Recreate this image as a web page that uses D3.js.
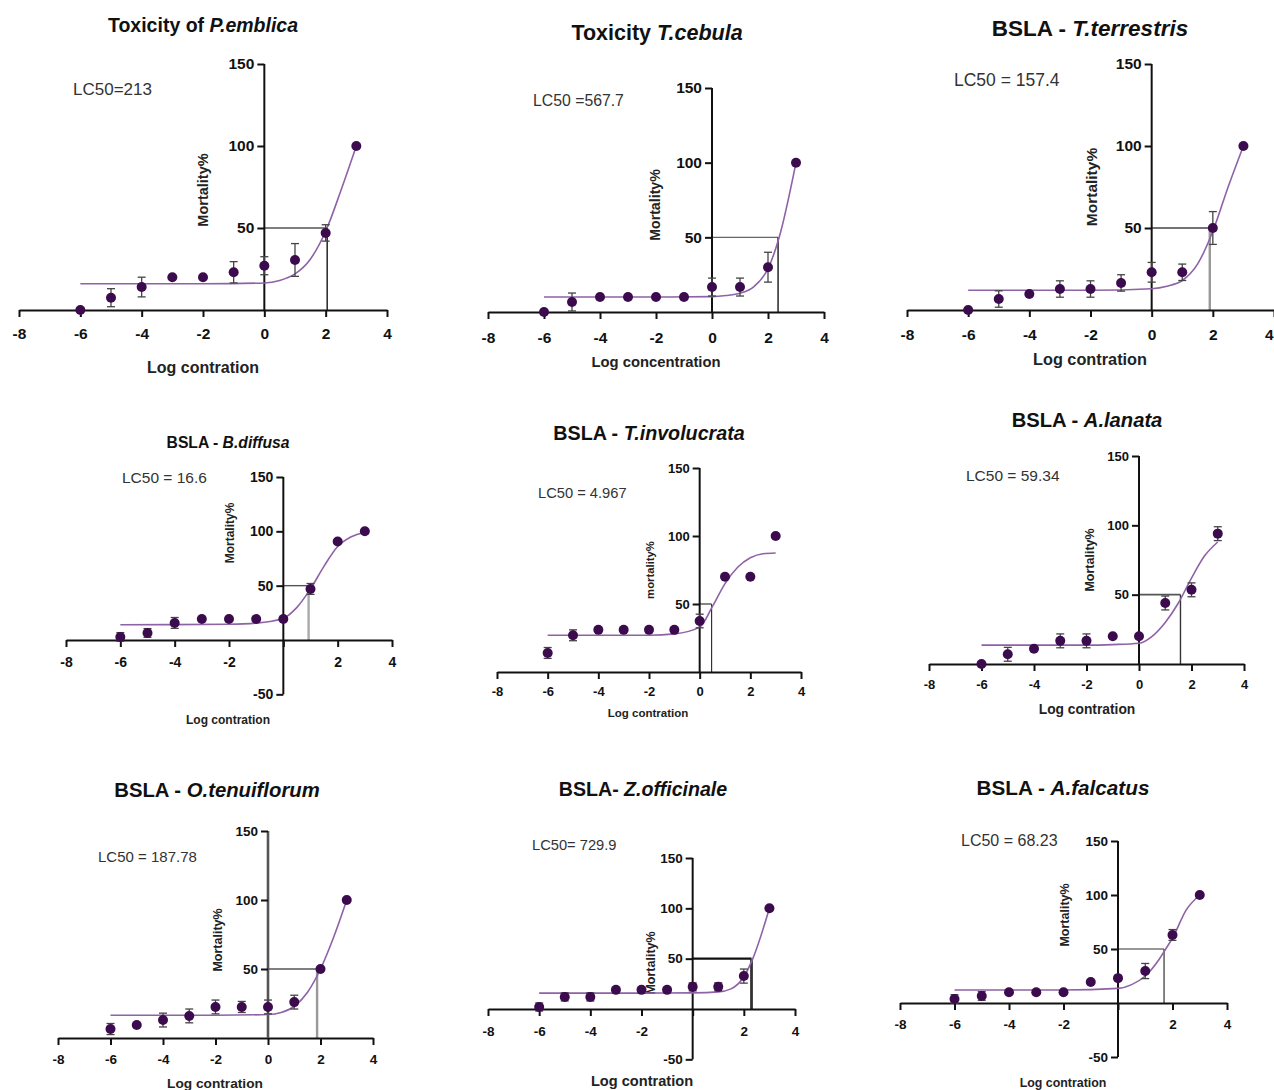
<!DOCTYPE html>
<html>
<head>
<meta charset="utf-8">
<script src="https://cdn.jsdelivr.net/npm/d3@7"></script>
<style>
  body { margin: 0; background: #fff; }
  svg { display: block; font-family: "Liberation Sans", Arial, sans-serif; }
</style>
</head>
<body>
<script>
// doses (log concentration) used in every test
const doses = [-6, -5, -4, -3, -2, -1, 0, 1, 2, 3];
const xTicks = [-8, -6, -4, -2, 0, 2, 4];

const titlePrefix = ["Toxicity of ", "Toxicity ", "BSLA - ", "BSLA - ", "BSLA - ", "BSLA - ", "BSLA - ", "BSLA- ", "BSLA - "];
const species = ["P.emblica", "T.cebula", "T.terrestris", "B.diffusa", "T.involucrata", "A.lanata", "O.tenuiflorum", "Z.officinale", "A.falcatus"];
const xTitles = ["Log contration", "Log concentration", "Log contration", "Log contration", "Log contration",
  "Log contration", "Log contration", "Log contration", "Log contration"];
const yTitles = ["Mortality%", "Mortality%", "Mortality%", "Mortality%", "mortality%",
  "Mortality%", "Mortality%", "Mortality%", "Mortality%"];
const lc50Text = ["LC50=213", "LC50 =567.7", "LC50 = 157.4", "LC50 = 16.6", "LC50 = 4.967",
  "LC50 = 59.34", "LC50 = 187.78", "LC50= 729.9", "LC50 = 68.23"];
// x where the LC50 guide line drops from 50%
const lc50Log = [2.05, 2.36, 1.9, 0.93, 0.47, 1.58, 1.87, 2.3, 1.69];
const yMins = [0, 0, 0, -50, 0, 0, 0, -50, -50];
const zeroLabelled = [true, true, true, false, true, true, true, false, false];

// mean mortality % and error per dose
const mortEmblica = [0, 7.5, 14, 20, 20, 23, 27, 30.5, 47, 100];
const errEmblica = [0, 5.5, 6, 0, 0, 6.5, 5.5, 10, 5, 0];
const mortCebula = [0, 6.7, 10, 10, 10, 10, 16.7, 16.7, 30, 100];
const errCebula = [0, 6, 0, 0, 0, 0, 6, 6, 10, 0];
const mortTerrestris = [0, 6.7, 9.8, 12.8, 12.8, 16.5, 23, 23, 50, 100];
const errTerrestris = [0, 5, 0, 5, 5, 5, 6, 5, 10, 0];
const mortDiffusa = [2.8, 6.5, 15.7, 19.4, 19.4, 19.4, 19.4, 47, 90.7, 100];
const errDiffusa = [4, 4, 5, 0, 0, 0, 0, 5, 0, 0];
const mortInvolucrata = [14, 27, 31, 31, 31, 31, 37.5, 70, 70, 100];
const errInvolucrata = [4, 4, 0, 0, 0, 0, 5, 0, 0, 0];
const mortLanata = [0, 7, 11, 16.7, 16.7, 20, 20, 44, 53.5, 94];
const errLanata = [0, 5, 0, 5, 5, 0, 0, 5, 5, 5];
const mortTenuiflorum = [6.5, 9.4, 13, 16, 22.5, 22.5, 22.5, 26, 50, 100];
const errTenuiflorum = [4, 0, 5, 5, 5, 4, 5, 5, 0, 0];
const mortOfficinale = [2, 12, 12, 19, 19, 19, 22, 22, 32.7, 100];
const errOfficinale = [4, 4, 4, 0, 0, 0, 4, 4, 7, 0];
const mortFalcatus = [3.7, 6.5, 10, 10, 10, 19.4, 23, 29.6, 63, 100];
const errFalcatus = [4, 4, 0, 0, 0, 0, 0, 7, 5, 0];

// fitted curves
const fitX1 = [-6, -2, 0, 0.5, 1, 1.5, 2, 2.5, 3], fitY1 = [16, 16, 16.5, 18, 22, 31, 48, 73, 100];
const fitX2 = [-6, -2, 0, 0.5, 1, 1.5, 2, 2.4, 3], fitY2 = [10, 10, 10.3, 11, 12.5, 17, 29, 50, 100];
const fitX3 = [-6, -2, 0, 0.5, 1, 1.5, 2, 2.5, 3], fitY3 = [12, 12, 13, 14.5, 18, 28, 48, 75, 100];
const fitX4 = [-6, -2, -1, 0, 0.5, 1, 1.5, 2, 2.5, 3], fitY4 = [14, 14.5, 15.5, 20, 30, 47, 68, 86, 95, 99];
const fitX5 = [-6, -2, -1, 0, 0.5, 1, 1.5, 2, 2.5, 3], fitY5 = [27, 27, 28, 33, 48, 65, 77, 84, 87, 87.5];
const fitX6 = [-6, -2, -1, 0, 0.5, 1, 1.5, 2, 2.5, 3], fitY6 = [13.6, 13.6, 14, 15, 20, 30, 44, 62, 78, 88];
const fitX7 = [-6, -2, 0, 0.5, 1, 1.5, 2, 2.5, 3], fitY7 = [16.5, 16.5, 17, 18.5, 23, 33, 50, 73, 100];
const fitX8 = [-6, -2, 0, 1, 1.5, 2, 2.35, 3], fitY8 = [15.8, 15.8, 16, 17, 20, 32, 50, 100];
const fitX9 = [-6, -2, 0, 0.5, 1, 1.5, 1.75, 2, 2.5, 3], fitY9 = [12, 12, 13.5, 17, 25, 40, 50, 60, 86, 100];

const mortality = [mortEmblica, mortCebula, mortTerrestris, mortDiffusa, mortInvolucrata, mortLanata, mortTenuiflorum, mortOfficinale, mortFalcatus];
const errors = [errEmblica, errCebula, errTerrestris, errDiffusa, errInvolucrata, errLanata, errTenuiflorum, errOfficinale, errFalcatus];
const fitXs = [fitX1, fitX2, fitX3, fitX4, fitX5, fitX6, fitX7, fitX8, fitX9];
const fitYs = [fitY1, fitY2, fitY3, fitY4, fitY5, fitY6, fitY7, fitY8, fitY9];

// pixel layout of each panel: [x, y, font size]
const layout = [
  { xl: 19, xr: 387, y0: 310, y150: 64, title: [203, 25, 19.5], xlab: [203, 367, 16], ylab: [203, 190, 14.5], lc: [73, 89, 17], tf: 15.5, pad: 11, hl: "#555", vl: "#333", lw: 1.6, vw: 1.6 },
  { xl: 488, xr: 824, y0: 312, y150: 88, title: [657, 32, 21.5], xlab: [656, 362, 14.8], ylab: [655, 205, 14.2], lc: [533, 100, 15.8], tf: 15.5, pad: 13, hl: "#666", vl: "#333", lw: 1.4, vw: 1.6 },
  { xl: 907, xr: 1274, y0: 310, y150: 64, title: [1090, 28, 22.5], xlab: [1090, 359, 16.3], ylab: [1092, 187, 15.5], lc: [954, 80, 17.5], tf: 15.5, pad: 12, hl: "#444", vl: "#999", lw: 1.4, vw: 2.4 },
  { xl: 66, xr: 392, y0: 640, y150: 477, title: [228, 443, 15.7], xlab: [228, 720, 12], ylab: [230, 533, 12], lc: [122, 478, 15.5], tf: 14, pad: 10, hl: "#555", vl: "#aaa", lw: 1.4, vw: 2.4 },
  { xl: 497, xr: 801, y0: 672, y150: 468, title: [649, 433, 19.7], xlab: [648, 713, 11.5], ylab: [650, 570, 11.3], lc: [538, 493, 14.7], tf: 13, pad: 8, hl: "#333", vl: "#333", lw: 1.2, vw: 1.2 },
  { xl: 929, xr: 1244, y0: 664, y150: 456, title: [1087, 420, 20.2], xlab: [1087, 709, 13.8], ylab: [1090, 560, 12.5], lc: [966, 476, 15.5], tf: 13, pad: 9, hl: "#555", vl: "#333", lw: 1.6, vw: 1.4 },
  { xl: 58, xr: 373, y0: 1038, y150: 831, title: [217, 790, 20.3], xlab: [215, 1083, 13.7], ylab: [218, 940, 12.5], lc: [98, 857, 15], tf: 13.5, pad: 9, hl: "#555", vl: "#999", lw: 1.4, vw: 2.4 },
  { xl: 488, xr: 795, y0: 1009, y150: 858, title: [643, 789, 19.6], xlab: [642, 1081, 14.6], ylab: [651, 963, 12.5], lc: [532, 845, 14.7], tf: 13.5, pad: 10, hl: "#111", vl: "#333", lw: 2.2, vw: 2.8 },
  { xl: 900, xr: 1227, y0: 1003, y150: 841, title: [1063, 788, 20.7], xlab: [1063, 1083, 12.4], ylab: [1065, 915, 12.5], lc: [961, 840, 16], tf: 13.5, pad: 9, hl: "#333", vl: "#333", lw: 1.2, vw: 1.2 }
];

const svg = d3.select("body").append("svg")
  .attr("width", 1274)
  .attr("height", 1090);

layout.forEach((L, i) => {
  const g = svg.append("g");
  const yMin = yMins[i];
  const x = d3.scaleLinear().domain([-8, 4]).range([L.xl, L.xr]);
  const y = d3.scaleLinear().domain([0, 150]).range([L.y0, L.y150]);

  //Title
  const t = g.append("text")
    .attr("x", L.title[0]).attr("y", L.title[1]).attr("dy", "0.35em")
    .attr("text-anchor", "middle")
    .attr("font-size", L.title[2]).attr("font-weight", "bold").attr("fill", "#111");
  t.append("tspan").text(titlePrefix[i]);
  t.append("tspan").attr("font-style", "italic").text(species[i]);

  //LC50 text
  g.append("text")
    .attr("x", L.lc[0]).attr("y", L.lc[1]).attr("dy", "0.35em")
    .attr("font-size", L.lc[2]).attr("fill", "#333")
    .text(lc50Text[i]);

  //LC50 guide lines
  g.append("line")
    .attr("x1", x(0)).attr("x2", x(lc50Log[i]))
    .attr("y1", y(50)).attr("y2", y(50))
    .attr("stroke", L.hl).attr("stroke-width", L.lw);
  g.append("line")
    .attr("x1", x(lc50Log[i])).attr("x2", x(lc50Log[i]))
    .attr("y1", y(50)).attr("y2", y(0))
    .attr("stroke", L.vl).attr("stroke-width", L.vw);

  //X axis
  const gx = g.append("g")
    .attr("transform", `translate(0,${y(0)})`)
    .call(d3.axisBottom(x)
      .tickValues(xTicks)
      .tickSize(7).tickSizeOuter(0).tickPadding(L.pad)
      .tickFormat(d => (d === 0 && !zeroLabelled[i]) ? "" : String(d)));
  // keep a label at the page edge inside the picture
  gx.selectAll(".tick").filter(d => x(d) > 1266).select("text")
    .attr("text-anchor", "end").attr("dx", -1);

  //Y axis
  const yTicks = yMin < 0 ? [-50, 50, 100, 150] : [50, 100, 150];
  const gy = g.append("g")
    .attr("transform", `translate(${x(0)},0)`)
    .call(d3.axisLeft(y.copy().domain([0, 150]))
      .tickValues(yTicks).tickSize(7).tickSizeOuter(0).tickPadding(3)
      .tickFormat(d => String(d)));
  // stretch the axis line down to -50 where needed
  gy.select(".domain").attr("d", `M0,${y(yMin)}V${y(150)}`);

  [gx, gy].forEach(a => {
    const grayAxis = i === 6 && a === gy;
    a.select(".domain").attr("stroke", grayAxis ? "#555" : "#111").attr("stroke-width", grayAxis ? 2.6 : 2);
    a.selectAll(".tick line").attr("stroke", "#111").attr("stroke-width", 2);
    a.selectAll(".tick text")
      .attr("font-size", L.tf).attr("font-weight", "bold").attr("fill", "#111")
      .attr("font-family", "'Liberation Sans', Arial, sans-serif");
  });

  //Axis titles
  g.append("text")
    .attr("x", L.xlab[0]).attr("y", L.xlab[1]).attr("dy", "0.35em")
    .attr("text-anchor", "middle")
    .attr("font-size", L.xlab[2]).attr("font-weight", "bold").attr("fill", "#222")
    .text(xTitles[i]);
  g.append("text")
    .attr("transform", `translate(${L.ylab[0]},${L.ylab[1]}) rotate(-90)`)
    .attr("dy", "0.35em")
    .attr("text-anchor", "middle")
    .attr("font-size", L.ylab[2]).attr("font-weight", "bold").attr("fill", "#222")
    .text(yTitles[i]);

  //Fitted curve
  const fit = fitXs[i].map((v, k) => [v, fitYs[i][k]]);
  g.append("path")
    .datum(fit)
    .attr("fill", "none")
    .attr("stroke", "#8e62a6")
    .attr("stroke-width", 1.6)
    .attr("d", d3.line().x(d => x(d[0])).y(d => y(d[1])).curve(d3.curveMonotoneX));

  //Error bars
  const pts = doses.map((d, k) => ({ d: d, m: mortality[i][k], e: errors[i][k] }));
  const eb = g.selectAll(".err").data(pts.filter(p => p.e > 0)).enter().append("g")
    .attr("stroke", "#444").attr("stroke-width", 1.3);
  eb.append("line")
    .attr("x1", p => x(p.d)).attr("x2", p => x(p.d))
    .attr("y1", p => y(p.m + p.e)).attr("y2", p => y(p.m - p.e));
  eb.append("line")
    .attr("x1", p => x(p.d) - 4).attr("x2", p => x(p.d) + 4)
    .attr("y1", p => y(p.m + p.e)).attr("y2", p => y(p.m + p.e));
  eb.append("line")
    .attr("x1", p => x(p.d) - 4).attr("x2", p => x(p.d) + 4)
    .attr("y1", p => y(p.m - p.e)).attr("y2", p => y(p.m - p.e));

  //Points
  g.selectAll("circle")
    .data(pts)
    .enter()
    .append("circle")
    .attr("cx", p => x(p.d))
    .attr("cy", p => y(p.m))
    .attr("r", 5)
    .attr("fill", "#3b0b4e");
});
</script>
</body>
</html>
